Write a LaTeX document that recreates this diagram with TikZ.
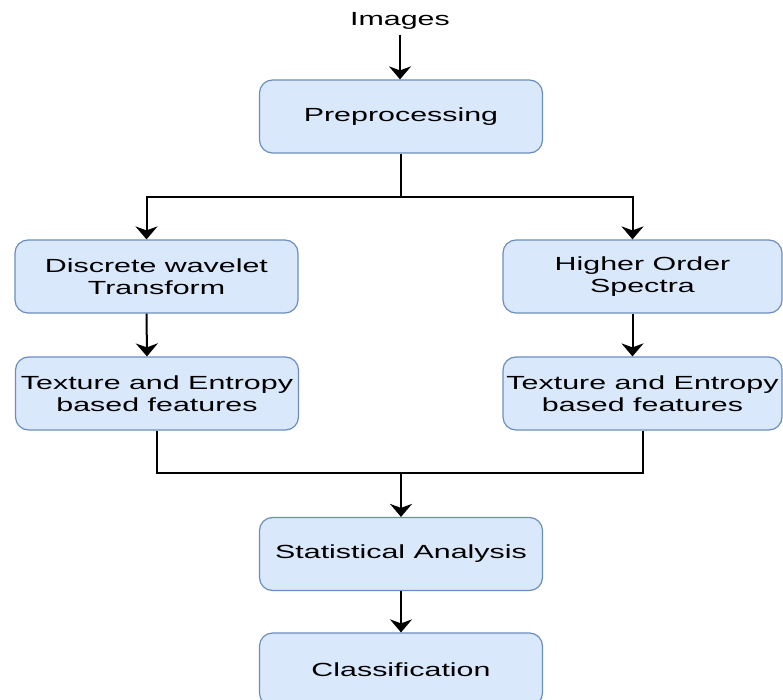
\documentclass[tikz,border=0pt]{standalone}
\usepackage{fontspec}
\setmainfont{Liberation Sans}[FakeStretch=1.6]
\usetikzlibrary{arrows.meta}
\definecolor{boxfill}{HTML}{DAE8FC}
\definecolor{boxline}{HTML}{6C8EBF}
\begin{document}
\begin{tikzpicture}[x=1pt,y=-1pt,
  label/.style={font=\fontsize{19}{22}\selectfont, inner sep=0pt},
  stage/.style={draw=boxline, fill=boxfill, line width=1.2pt, rounded corners=13pt,
    minimum width=283pt, minimum height=73pt, align=center,
    font=\fontsize{19}{22}\selectfont, inner sep=0pt},
  flow/.style={line width=2pt, -{Stealth[length=13pt,width=22pt,inset=4pt]}},
  wire/.style={line width=2pt}]
\useasboundingbox (0,0) rectangle (783,700);

% processing stages
\node[label] (img) at (400,21) {Images};
\node[stage] (pre) at (401,116.5) {Preprocessing};
\node[stage] (dwt) at (156.5,276.5) {Discrete wavelet\\Transform};
\node[stage] (tl) at (157,393.5) {Texture and Entropy\\based features};
\node[stage, minimum width=279pt] (hos) at (642.5,276.5) {Higher Order\\Spectra};
\node[stage, minimum width=279pt] (tr) at (642.5,393.5) {Texture and Entropy\\based features};
\node[stage] (sta) at (401,554) {Statistical Analysis};
\node[stage] (cls) at (401,669.5) {Classification};

% branch points
\coordinate (split) at (401,197);
\coordinate (join) at (401,473);

% connectors
\draw[flow] ([yshift=-5pt]img.south) -- (img.south |- pre.north);
\draw[wire] (pre.south) -- (split);
\draw[flow] (split) -| ([xshift=-10pt]dwt.north);
\draw[flow] (split) -| ([xshift=-10pt]hos.north);
\draw[flow] ([xshift=-10pt]dwt.south) -- ([xshift=-10pt]tl.north);
\draw[flow] ([xshift=-10pt]hos.south) -- ([xshift=-10pt]tr.north);
\draw[wire] (tl.south) |- (join) -| (tr.south);
\draw[flow] (join) -- (sta.north);
\draw[flow] (sta.south) -- (cls.north);
\end{tikzpicture}
\end{document}
